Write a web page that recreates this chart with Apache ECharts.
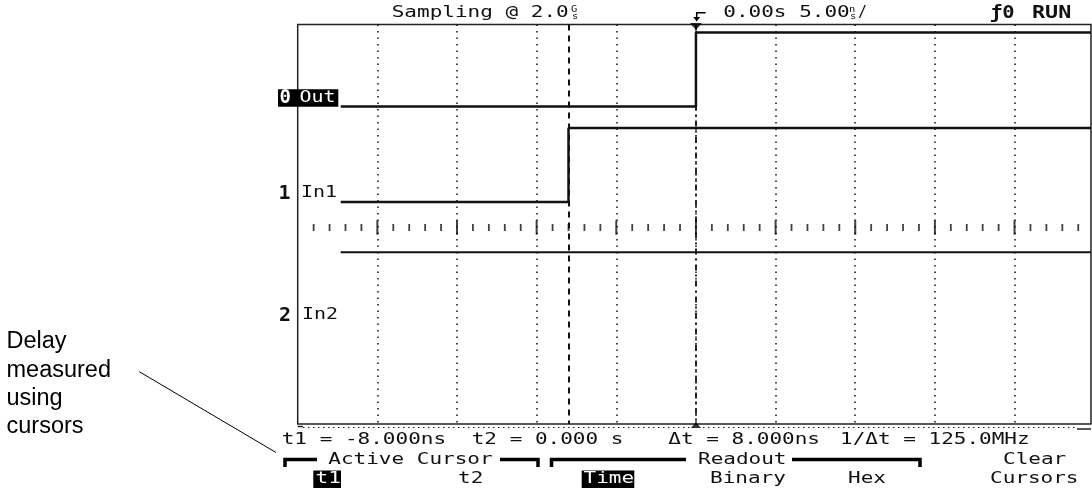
<!DOCTYPE html>
<html><head><meta charset="utf-8">
<script src="https://cdn.jsdelivr.net/npm/echarts@6/dist/echarts.min.js"></script>
<style>html,body{margin:0;padding:0;background:#fff}#c{width:1092px;height:488px}</style>
</head><body><div id="c"></div>
<script>
// ---------------- data ----------------
const channelNames = ['Out', 'In1', 'In2'];
const channelNumbers = ['0', '1', '2'];
// [time (ns), logic state]
const outSteps = [[-22.3, 0], [0, 1], [24.8, 1]];
const in1Steps = [[-22.3, 0], [-8, 1], [24.8, 1]];
const in2Steps = [[-22.3, 0], [24.8, 0]];
const cursorTimes = [-8, 0];           // t1, t2 (ns)
const rulerTicks = [];                  // graticule ticks every 1 ns (5 per division)
for (let t = -24; t <= 24; t++) rulerTicks.push(t);
const headerLeft = 'Sampling @ 2.0';
const headerMid = '0.00s 5.00';
const headerRight = ['ƒ0', 'RUN'];
const readoutTexts = ['t1 = -8.000ns', 't2 = 0.000 s', 'Δt = 8.000ns', '1/Δt = 125.0MHz'];
const menuTitles = ['Active Cursor', 'Readout', 'Clear'];
const menuItems = ['t1', 't2', 'Time', 'Binary', 'Hex', 'Cursors'];
const annotationLines = ['Delay', 'measured', 'using', 'cursors'];

// ---------------- layout ----------------
const X_MIN = -25, X_MAX = 24.8, X_INT = 5;
const Y_MAX = 399.5;
const LOW = { Out: 82, In1: 177.5, In2: 227.8 };
const AMP = 74;
const RULER_Y = 203;
const INK = '#111';
const MONO = '"DejaVu Sans Mono"';
const SX = 1.4;
const DY = 1.5;

function toTrace(steps, name) {
  return steps.map(([t, s]) => [t, LOW[name] - s * AMP]);
}
function mono(x, y, str, o = {}) {
  const fs = o.fs || 15;
  return {
    type: 'text', x: x, y: y + DY, scaleX: o.sx || SX, z: 20,
    style: {
      text: str, x: 0, y: 0, fill: o.fill || INK,
      font: (o.bold ? 'bold ' : '') + fs + 'px ' + MONO,
      textAlign: 'left', align: 'left',
      textVerticalAlign: 'middle', verticalAlign: 'middle'
    }
  };
}
function box(x, y, w, h) {
  return { type: 'rect', z: 15, shape: { x, y, width: w, height: h }, style: { fill: '#000' } };
}
function pline(points, w) {
  return { type: 'polyline', z: 15, shape: { points }, style: { stroke: '#000', lineWidth: w, fill: null } };
}

const graphics = [
  // header
  mono(391.7, 11.5, headerLeft),
  mono(571, 8, 'G', { fs: 8, sx: 1.3 }),
  mono(572, 15, 's', { fs: 8, sx: 1.3 }),
  mono(723.3, 11.5, headerMid),
  mono(849, 8, 'n', { fs: 8, sx: 1.3 }),
  mono(850, 15, 's', { fs: 8, sx: 1.3 }),
  mono(858, 11.5, '/', { fs: 15, sx: 1.0 }),
  mono(990, 12, headerRight[0], { bold: true, fs: 17, sx: 1.2 }),
  mono(1032, 12, headerRight[1], { bold: true, fs: 17, sx: 1.28 }),
  // trigger icon
  pline([[705.7, 12.7], [696.7, 12.7], [696.7, 19]], 1.5),
  { type: 'polygon', z: 15, shape: { points: [[693.2, 17], [700.2, 17], [696.7, 21.5]] }, style: { fill: '#000' } },
  // channel labels
  box(278, 89.3, 60.3, 17.4),
  mono(279.5, 96.5, channelNumbers[0], { bold: true, fs: 19, sx: 1.0, fill: '#fff' }),
  mono(299.5, 96.5, channelNames[0], { fill: '#fff', sx: 1.33 }),
  mono(278.5, 192, channelNumbers[1], { bold: true, fs: 20, sx: 1.0 }),
  mono(301, 192, channelNames[1], { sx: 1.33 }),
  mono(279, 314, channelNumbers[2], { bold: true, fs: 20, sx: 1.0 }),
  mono(302, 314, channelNames[2], { sx: 1.33 }),
  // bottom readout bar
  { type: 'line', z: 15, shape: { x1: 303, y1: 427.5, x2: 1077, y2: 427.5 }, style: { stroke: '#222', lineWidth: 1.2, lineDash: [1.5, 3.5] } },
  { type: 'line', z: 15, shape: { x1: 1077, y1: 429, x2: 1091, y2: 429 }, style: { stroke: '#222', lineWidth: 1.5 } },
  { type: 'line', z: 15, shape: { x1: 297.7, y1: 426.5, x2: 303, y2: 426.5 }, style: { stroke: '#222', lineWidth: 1.5 } },
  mono(281.7, 438.5, readoutTexts[0]),
  mono(471.7, 438.5, readoutTexts[1]),
  mono(668.3, 438.5, readoutTexts[2]),
  mono(840, 438.5, readoutTexts[3]),
  // menu
  pline([[285, 467], [285, 459.5], [317, 459.5]], 3.5),
  mono(328.3, 458.5, menuTitles[0]),
  pline([[500, 459.5], [538, 459.5], [538, 467]], 3.5),
  pline([[551.5, 467], [551.5, 459.5], [686, 459.5]], 3.5),
  mono(698, 458.5, menuTitles[1]),
  pline([[792, 459.5], [920, 459.5], [920, 467]], 3.5),
  mono(1003, 458.5, menuTitles[2]),
  box(313.3, 470.5, 27.7, 17.5),
  mono(315.5, 478, menuItems[0], { fill: '#fff' }),
  mono(458, 478, menuItems[1]),
  box(581.7, 470.5, 52.6, 17.5),
  mono(583.5, 478, menuItems[2], { fill: '#fff' }),
  mono(710, 478, menuItems[3]),
  mono(848, 478, menuItems[4]),
  mono(990, 478, menuItems[5]),
  // annotation
  { type: 'line', z: 15, shape: { x1: 139.3, y1: 371.7, x2: 276, y2: 452.5 }, style: { stroke: '#000', lineWidth: 1 } }
];
annotationLines.forEach((s, i) => {
  graphics.push({
    type: 'text', x: 6.5, y: 342 + i * 28.3, z: 20,
    style: { text: s, x: 0, y: 0, fill: '#000', font: '23.5px "Liberation Sans"', textAlign: 'left', align: 'left', textVerticalAlign: 'middle', verticalAlign: 'middle' }
  });
});

const chart = echarts.init(document.getElementById('c'), null, { renderer: 'canvas' });
chart.setOption({
  animation: false,
  backgroundColor: '#fff',
  grid: { left: 297.7, top: 24.5, width: 793.3, height: Y_MAX, show: true, borderColor: '#222', borderWidth: 1.5, backgroundColor: 'transparent' },
  xAxis: {
    type: 'value', min: X_MIN, max: X_MAX, interval: X_INT,
    axisLine: { show: false }, axisTick: { show: false }, axisLabel: { show: false },
    splitLine: { show: true, showMinLine: false, showMaxLine: false, lineStyle: { color: '#111', width: 1.5, type: [1.5, 5] } }
  },
  yAxis: { type: 'value', min: 0, max: Y_MAX, inverse: true, show: false },
  series: [
    { name: 'Out', type: 'line', step: 'end', symbol: 'none', data: toTrace(outSteps, 'Out'), lineStyle: { color: INK, width: 2.5 }, z: 5 },
    { name: 'In1', type: 'line', step: 'end', symbol: 'none', data: toTrace(in1Steps, 'In1'), lineStyle: { color: INK, width: 2.5 }, z: 5 },
    {
      name: 'In2', type: 'line', step: 'end', symbol: 'none', data: toTrace(in2Steps, 'In2'), lineStyle: { color: INK, width: 2 }, z: 5,
      markLine: {
        silent: true, symbol: ['none', 'none'], label: { show: false },
        data: [
          { xAxis: cursorTimes[0], lineStyle: { color: INK, width: 2, type: [6, 5] } },
          { xAxis: cursorTimes[1], lineStyle: { color: INK, width: 1.8, type: [6, 4, 2, 4] } }
        ]
      }
    },
    {
      name: 'ruler', type: 'scatter', symbol: 'rect', silent: true,
      data: rulerTicks.map(t => ({ value: [t, RULER_Y], symbolSize: t % 5 === 0 ? [2, 14.5] : [1.8, 7] })),
      itemStyle: { color: '#111' }, z: 4
    },
    {
      name: 'cursorMarks', type: 'scatter', symbol: 'triangle', clip: false, silent: true,
      data: [
        { value: [cursorTimes[1], 2], symbolRotate: 180, symbolSize: [12, 7] },
        { value: [cursorTimes[1], 400.5], symbolSize: [10, 6] }
      ],
      itemStyle: { color: '#000' }, z: 6
    }
  ],
  graphic: graphics
});
</script></body></html>
